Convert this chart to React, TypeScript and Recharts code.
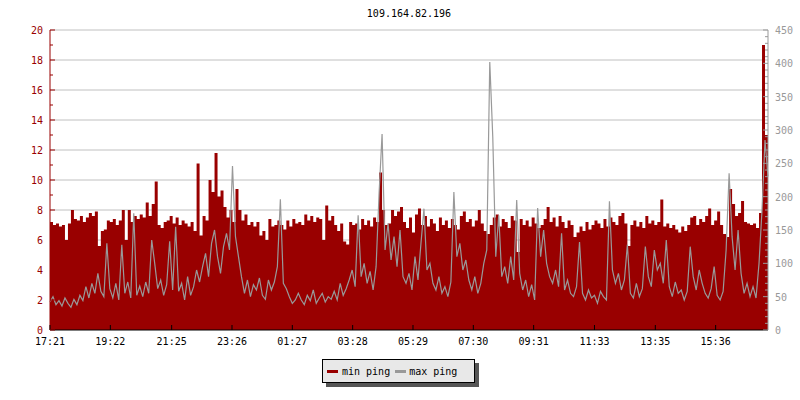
import React from "react";
import { ComposedChart, Area, Line, XAxis, YAxis, CartesianGrid } from "recharts";

const RED = "#990000";
const GREY = "#999999";
const FONT = "'DejaVu Sans Mono', monospace";

const title = "109.164.82.196";
const startTime = "17:21";
const stepMinutes = 6;

const timeLabels = ["17:21", "19:22", "21:25", "23:26", "01:27", "03:28", "05:29", "07:30", "09:31", "11:33", "13:35", "15:36"];

// min ping, left axis (ms), one sample every 6 minutes
const minPing = [
  7.2, 7.0, 7.1, 6.9, 7.0, 6.0, 7.1, 8.0, 7.4, 7.3,
  7.6, 7.2, 7.5, 7.8, 7.6, 7.9, 5.6, 6.6, 6.7, 7.3,
  7.2, 7.4, 7.0, 7.3, 8.0, 6.0, 8.0, 7.2, 7.6, 7.4,
  7.7, 7.5, 8.5, 7.6, 8.4, 9.9, 7.0, 6.8, 7.2, 7.3,
  7.6, 7.1, 7.5, 7.0, 7.3, 7.1, 6.9, 7.2, 6.6, 11.1,
  6.3, 7.6, 7.3, 10.0, 9.2, 11.8, 8.9, 9.3, 8.2, 7.5,
  8.0, 7.2, 9.4, 8.0, 7.3, 7.7, 7.0, 7.2, 6.9, 7.2,
  6.3, 6.6, 6.0, 7.4, 6.9, 7.0, 7.3, 7.0, 6.7, 7.3,
  6.9, 7.4, 7.1, 7.2, 7.0, 7.7, 7.3, 7.6, 7.2, 7.5,
  7.4, 6.0, 8.3, 7.3, 7.6, 7.0, 6.6, 7.1, 5.9, 5.7,
  7.2, 7.0, 7.1, 6.7, 7.4, 7.0, 7.3, 6.9, 7.5, 7.2,
  10.5, 8.0, 7.0, 7.1, 8.0, 7.6, 7.9, 8.2, 7.2, 6.8,
  7.5, 6.5, 7.7, 8.1, 7.0, 7.6, 6.9, 7.4, 7.1, 6.6,
  7.5, 7.0, 7.3, 6.8, 7.4, 7.0, 6.7, 7.6, 7.9, 7.2,
  7.4, 6.9, 7.3, 8.0, 7.1, 6.6, 6.4, 7.0, 7.5, 7.7,
  6.9, 7.4, 7.2, 6.8, 7.6, 7.3, 5.2, 7.4, 7.0, 7.3,
  6.9, 7.5, 7.1, 6.8, 7.0, 7.4, 8.2, 7.2, 7.5, 6.9,
  7.6, 7.2, 6.8, 7.3, 7.0, 6.2, 6.5, 6.9, 6.6, 7.2,
  6.7, 7.0, 7.3, 7.1, 6.8, 7.4, 6.9, 7.5, 7.2, 7.0,
  7.6, 7.8, 7.1, 5.6, 7.0, 7.3, 6.9, 7.2, 6.8, 7.6,
  7.1, 7.3, 7.0, 7.2, 8.7, 6.9, 7.1, 6.8, 7.0, 6.7,
  6.5, 6.9, 6.6, 7.0, 7.5, 7.6, 7.0, 7.4, 7.2, 7.6,
  8.1, 7.0, 7.3, 7.9, 7.0, 6.4, 6.2, 9.4, 8.4, 7.6,
  7.8, 8.6, 7.2, 7.1, 7.0, 7.1, 6.8, 7.8, 19.0, 13.0,
  12.0,
];

// max ping, right axis (ms)
const maxPing = [
  42, 50, 38, 44, 36, 48, 40, 34, 46, 38, 52, 44,
  65, 48, 70, 55, 85, 58, 50, 130, 62, 48, 70, 45,
  128, 55, 72, 48, 175, 52, 66, 50, 72, 55, 135, 100,
  62, 75, 52, 68, 133, 60, 155, 58, 70, 45, 80, 52,
  65, 90, 72, 95, 115, 80, 130, 150, 110, 85, 125, 145,
  120, 246, 140, 110, 80, 55, 75, 50, 68, 60, 78, 52,
  46, 75, 60, 72, 95, 196, 70, 62, 50, 40, 45, 55,
  45, 38, 52, 44, 60, 40, 48, 55, 42, 50, 46, 58, 45, 70, 52, 62,
  75, 90, 65, 172, 80, 100, 70, 88, 60, 95, 205, 294,
  120, 160, 105, 140, 95, 150, 80, 70, 85, 60, 110, 75,
  130, 182, 90, 100, 70, 60, 80, 55, 65, 50, 72, 207,
  110, 130, 90, 105, 75, 60, 80, 55, 70, 100, 120, 402,
  290, 110, 172, 80, 95, 70, 110, 75, 195, 85, 60, 75,
  50, 68, 45, 183, 110, 150, 100, 80, 70, 90, 65, 145,
  60, 75, 55, 50, 65, 132, 55, 45, 60, 48, 52, 40,
  58, 50, 45, 193, 90, 70, 85, 60, 75, 128, 55, 48,
  70, 50, 62, 125, 80, 65, 120, 90, 100, 70, 135, 65,
  50, 72, 55, 60, 45, 58, 125, 80, 60, 90, 70, 55,
  48, 62, 95, 52, 45, 58, 120, 235, 140, 90, 150, 85,
  55, 70, 50, 65, 48, 100, 180, 285, 230,
];

const leftTicks = [0, 1, 2, 3, 4, 5, 6, 7, 8, 9, 10, 11, 12, 13, 14, 15, 16, 17, 18, 19, 20];
const gridValues = [2, 4, 6, 8, 10, 12, 14, 16, 18, 20];
const rightLabels = [0, 50, 100, 150, 200, 250, 300, 350, 400, 450];
const rightTicks = Array.from({ length: 46 }, (_, k) => k * 10);

const toMin = (s: string) => {
  const [h, m] = s.split(":").map(Number);
  return h * 60 + m;
};
const tickMinutes = timeLabels.map((l) => (toMin(l) - toMin(startTime) + 1440) % 1440);

const data = minPing.map((v, i) => ({ t: i * stepMinutes, min: v, max: maxPing[i] }));

const LeftTick = (props: any) => {
  const { x, y, payload } = props;
  const major = payload.value % 2 === 0;
  return (
    <g>
      <line x1={x} x2={x + (major ? 5 : 3)} y1={y} y2={y} stroke={RED} />
      {major && (
        <text x={x - 7} y={y + 4} textAnchor="end" fill={RED} fontSize={10} fontFamily={FONT}>
          {payload.value}
        </text>
      )}
    </g>
  );
};

const RightTick = (props: any) => {
  const { x, y, payload } = props;
  const major = rightLabels.includes(payload.value);
  return (
    <g>
      <line x1={x} x2={x - (major ? 5 : 3)} y1={y} y2={y} stroke={GREY} />
      {major && (
        <text x={x + 7} y={y + 4} textAnchor="start" fill={GREY} fontSize={10} fontFamily={FONT}>
          {payload.value}
        </text>
      )}
    </g>
  );
};

const BottomTick = (props: any) => {
  const { x, y, payload } = props;
  const label = timeLabels[tickMinutes.indexOf(payload.value)];
  return (
    <g>
      <line x1={x} x2={x} y1={y} y2={y - 5} stroke="#000" />
      <text x={x} y={y + 15} textAnchor="middle" fill="#000" fontSize={10} fontFamily={FONT}>
        {label}
      </text>
    </g>
  );
};

export default function App() {
  return (
    <div style={{ position: "absolute", left: 0, top: 0, width: 800, height: 400, background: "#fff", fontFamily: FONT }}>
      <div style={{ position: "absolute", left: 309, top: 8, width: 200, textAlign: "center", fontSize: 10, lineHeight: "12px" }}>
        {title}
      </div>
      <ComposedChart width={800} height={400} data={data} margin={{ top: 30, right: 0, bottom: 50, left: 0 }}>
        <CartesianGrid vertical={false} horizontal stroke="#c0c0c0" horizontalValues={gridValues} yAxisId="left" />
        <XAxis
          dataKey="t"
          type="number"
          domain={[0, 1440]}
          ticks={tickMinutes}
          interval={0}
          height={20}
          tickSize={0}
          tickMargin={0}
          tickLine={false}
          axisLine={{ stroke: "#000" }}
          tick={<BottomTick />}
        />
        <YAxis
          yAxisId="left"
          orientation="left"
          domain={[0, 20]}
          ticks={leftTicks}
          interval={0}
          width={50}
          tickSize={0}
          tickMargin={0}
          tickLine={false}
          axisLine={{ stroke: RED }}
          tick={<LeftTick />}
        />
        <YAxis
          yAxisId="right"
          orientation="right"
          domain={[0, 450]}
          ticks={rightTicks}
          interval={0}
          width={32}
          tickSize={0}
          tickMargin={0}
          tickLine={false}
          axisLine={{ stroke: GREY }}
          tick={<RightTick />}
        />
        <Area
          yAxisId="left"
          dataKey="min"
          type="stepAfter"
          fill={RED}
          fillOpacity={1}
          stroke="none"
          isAnimationActive={false}
        />
        <Line
          yAxisId="right"
          dataKey="max"
          type="linear"
          stroke={GREY}
          strokeWidth={1.2}
          dot={false}
          isAnimationActive={false}
        />
      </ComposedChart>
      <div
        style={{
          position: "absolute",
          left: 322,
          top: 359,
          width: 153,
          height: 24,
          boxSizing: "border-box",
          border: "1px solid #000",
          background: "#e8e8e8",
          boxShadow: "4px 4px 0 #555",
          fontSize: 10,
          display: "flex",
          alignItems: "center",
          paddingLeft: 4,
        }}
      >
        <span style={{ display: "inline-block", width: 11, height: 3, background: RED }} />
        <span style={{ marginLeft: 4 }}>min ping</span>
        <span style={{ display: "inline-block", width: 11, height: 3, background: GREY, marginLeft: 5 }} />
        <span style={{ marginLeft: 3 }}>max ping</span>
      </div>
    </div>
  );
}
